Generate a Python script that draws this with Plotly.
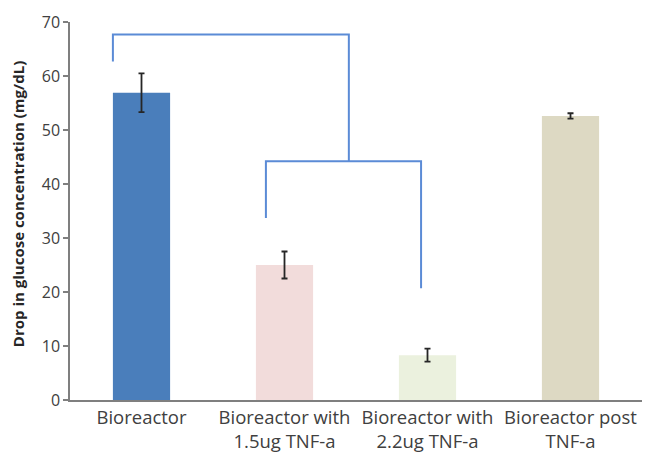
import plotly.graph_objects as go

categories = ["Bioreactor", "Bioreactor with<br>1.5ug TNF-a", "Bioreactor with<br>2.2ug TNF-a", "Bioreactor post<br>TNF-a"]
values = [56.9, 25.0, 8.3, 52.6]
errors = [3.6, 2.5, 1.2, 0.5]
bar_colors = ["#4a7ebb", "#f2dcdb", "#ebf1de", "#ddd9c3"]
y_title = "Drop in glucose concentration (mg/dL)"

# bracket paths: (x positions in category index units, y values)
bracket1_x = [-0.2, -0.2, 1.45, 1.45]
bracket1_y = [62.7, 67.7, 67.7, 44.2]
bracket2_x = [0.87, 0.87, 1.955, 1.955]
bracket2_y = [33.7, 44.2, 44.2, 20.7]

fig = go.Figure()
fig.add_trace(go.Bar(
    x=list(range(len(categories))), y=values,
    marker=dict(color=bar_colors, line=dict(width=0)),
    error_y=dict(type="data", array=errors, color="#262626", thickness=1.8, width=3),
    width=0.4,
))

for bx, by in [(bracket1_x, bracket1_y), (bracket2_x, bracket2_y)]:
    path = "M " + " L ".join(f"{x},{y}" for x, y in zip(bx, by))
    fig.add_shape(type="path", path=path, xref="x", yref="y",
                  line=dict(color="#5b8bd6", width=2))

fig.add_annotation(text="<b>" + y_title + "</b>", textangle=-90,
                   xref="paper", yref="paper", x=-0.091, y=0.518,
                   xanchor="center", yanchor="middle",
                   showarrow=False, font=dict(size=15, color="#262626", family="Open Sans"))

fig.update_layout(
    width=645, height=454,
    margin=dict(l=70, r=3, t=22, b=54),
    plot_bgcolor="white", paper_bgcolor="white",
    showlegend=False,
    font=dict(family="Open Sans", color="#404040"),
)
fig.update_xaxes(
    range=[-0.5, 3.5], tickvals=list(range(len(categories))), ticktext=categories,
    showline=True, linecolor="#7f7f7f", linewidth=1.5, ticks="", automargin=False,
    tickfont=dict(size=18.5, color="#404040"), showgrid=False, zeroline=False,
)
fig.update_yaxes(
    range=[0, 70], dtick=10, showline=True, linecolor="#7f7f7f", linewidth=1.5,
    ticks="outside", ticklen=5, tickcolor="#7f7f7f", tickwidth=1.5, automargin=False,
    tickfont=dict(size=16, color="#404040"), showgrid=False, zeroline=False,
)
fig.write_html("out.html", config={"displayModeBar": False},
               post_script="document.body.style.margin='0';")
